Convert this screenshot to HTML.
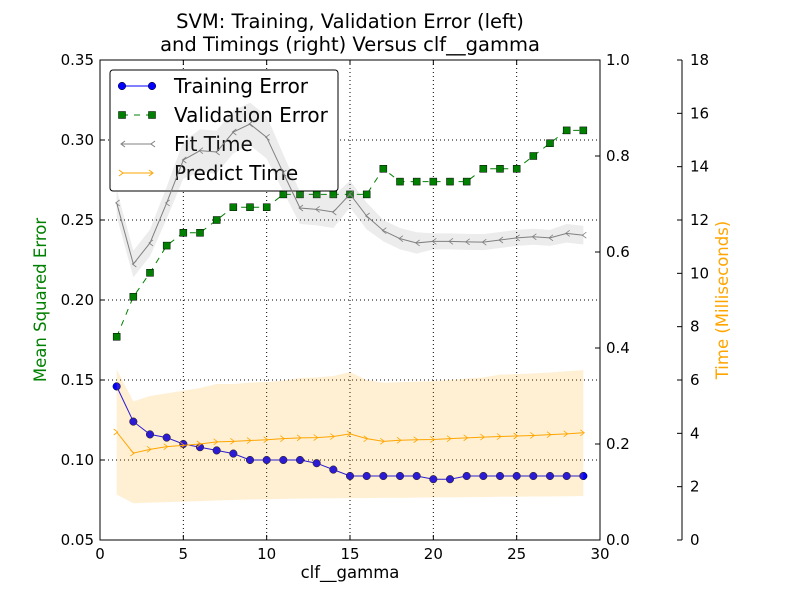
<!DOCTYPE html>
<html><head><meta charset="utf-8"><style>
body{margin:0;background:#fff}
svg{font-family:"DejaVu Sans","Liberation Sans",sans-serif}
</style></head><body>
<svg id="chart" width="800" height="600" xmlns="http://www.w3.org/2000/svg"></svg>
<script>
const gammas=[1,2,3,4,5,6,7,8,9,10,11,12,13,14,15,16,17,18,19,20,21,22,23,24,25,26,27,28,29];
const trainErr=[0.146,0.124,0.116,0.114,0.110,0.108,0.106,0.104,0.100,0.100,0.100,0.100,0.098,0.094,0.090,0.090,0.090,0.090,0.090,0.088,0.088,0.090,0.090,0.090,0.090,0.090,0.090,0.090,0.090];
const valErr=[0.177,0.202,0.217,0.234,0.242,0.242,0.250,0.258,0.258,0.258,0.266,0.266,0.266,0.266,0.266,0.266,0.282,0.274,0.274,0.274,0.274,0.274,0.282,0.282,0.282,0.290,0.298,0.306,0.306];
const fitTime=[12.64,10.35,11.14,12.64,14.25,14.6,14.55,15.3,15.6,15.1,13.76,12.45,12.4,12.3,12.97,12.15,11.6,11.3,11.14,11.2,11.2,11.18,11.17,11.25,11.33,11.37,11.33,11.5,11.43];
const fitStd=[0.5,0.5,0.5,0.6,0.7,0.8,0.8,0.8,0.8,0.8,0.7,0.6,0.6,0.6,0.5,0.5,0.4,0.4,0.4,0.3,0.3,0.3,0.3,0.3,0.3,0.3,0.3,0.35,0.35];
const predTime=[4.05,3.26,3.4,3.5,3.55,3.6,3.68,3.7,3.73,3.76,3.8,3.83,3.84,3.88,3.98,3.8,3.7,3.74,3.76,3.77,3.8,3.83,3.86,3.88,3.9,3.92,3.95,3.98,4.02];
const predHi=[6.4,5.2,5.4,5.5,5.6,5.7,5.85,5.85,5.9,5.93,5.97,6.07,6.1,6.15,6.3,6.0,5.9,5.92,5.94,5.96,6.0,6.05,6.1,6.2,6.22,6.25,6.28,6.33,6.37];
const predLo=[1.7,1.38,1.4,1.42,1.44,1.46,1.48,1.5,1.52,1.53,1.54,1.55,1.56,1.56,1.57,1.57,1.58,1.58,1.59,1.6,1.6,1.61,1.61,1.62,1.62,1.63,1.63,1.64,1.65];
const xTicks=[0,5,10,15,20,25,30];
const yTicks=[0.05,0.10,0.15,0.20,0.25,0.30,0.35];
const r1Ticks=[0,0.2,0.4,0.6,0.8,1.0];
const r2Ticks=[0,2,4,6,8,10,12,14,16,18];

const L=100,R=600,T=60,B=540;
const X=v=>L+(v/30)*(R-L);
const Y=v=>B-(v-0.05)/0.30*(B-T);
const YR=v=>B-v*(B-T);
const YT=v=>B-v/18*(B-T);
const svg=document.getElementById('chart');
const NS='http://www.w3.org/2000/svg';
function mk(tag,attrs,parent){const e=document.createElementNS(NS,tag);for(const k in attrs)e.setAttribute(k,attrs[k]);(parent||svg).appendChild(e);return e;}
function txt(s,attrs){const e=mk('text',attrs);e.textContent=s;return e;}
const pts=(xs,ys,f)=>xs.map((g,i)=>X(g)+','+f(ys[i])).join(' ');

// grid
xTicks.slice(1,-1).forEach(t=>{const l=mk('line',{x1:X(t),x2:X(t),y1:T,y2:B,stroke:'#000','stroke-dasharray':'1,3','stroke-width':1});

});
yTicks.slice(1,-1).forEach(t=>{const l=mk('line',{x1:L,x2:R,y1:Y(t),y2:Y(t),stroke:'#000','stroke-dasharray':'1,3','stroke-width':1});

});

// validation
const vl=mk('polyline',{points:pts(gammas,valErr,Y),fill:'none',stroke:'#008000','stroke-width':1,'stroke-dasharray':'6,6'});


gammas.forEach((g,i)=>{const m=mk('rect',{x:X(g)-3.5,y:Y(valErr[i])-3.5,width:7,height:7,fill:'#008000',stroke:'#000','stroke-width':0.5});

});
// training
const tl=mk('polyline',{points:pts(gammas,trainErr,Y),fill:'none',stroke:'#0000ff','stroke-width':1});


gammas.forEach((g,i)=>{const m=mk('circle',{cx:X(g),cy:Y(trainErr[i]),r:3.8,fill:'#0000ff',stroke:'#000','stroke-width':0.5});

});

// legend (drawn beneath the timing axes)
const lg=mk('rect',{x:110,y:70,width:228,height:121,rx:3,fill:'#fff',stroke:'#000','stroke-width':1});


const ents=[['Training Error','#0000ff','circle'],['Validation Error','#008000','square'],['Fit Time','#808080','left'],['Predict Time','#ffa500','right']];
ents.forEach((en,i)=>{const y=86+i*29;
mk('line',{x1:122,x2:152,y1:y,y2:y,stroke:en[1],'stroke-width':1,'stroke-dasharray':en[2]=='square'?'6,6':'none'});
if(en[2]=='circle'){mk('circle',{cx:122,cy:y,r:3.8,fill:en[1],stroke:'#000','stroke-width':0.5});mk('circle',{cx:152,cy:y,r:3.8,fill:en[1],stroke:'#000','stroke-width':0.5});}
if(en[2]=='square'){mk('rect',{x:118.5,y:y-3.5,width:7,height:7,fill:en[1],stroke:'#000','stroke-width':0.5});mk('rect',{x:148.5,y:y-3.5,width:7,height:7,fill:en[1],stroke:'#000','stroke-width':0.5});}
if(en[2]=='left'){[122,152].forEach(x=>mk('path',{d:`M${x+3},${y-3}L${x-1},${y}L${x+3},${y+3}`,fill:'none',stroke:en[1]}));}
if(en[2]=='right'){[122,152].forEach(x=>mk('path',{d:`M${x-3},${y-3}L${x+1},${y}L${x-3},${y+3}`,fill:'none',stroke:en[1]}));}
const t=txt(en[0],{x:174,y:y+7,'font-size':20});

});

// predict band
const pb=mk('polygon',{points:gammas.map((g,i)=>X(g)+','+YT(predHi[i])).join(' ')+' '+gammas.slice().reverse().map((g,j)=>{const i=gammas.length-1-j;return X(g)+','+YT(predLo[i]);}).join(' '),fill:'#ffa500','fill-opacity':0.17});


// fit band
const fb=mk('polygon',{points:gammas.map((g,i)=>X(g)+','+YT(fitTime[i]+fitStd[i])).join(' ')+' '+gammas.slice().reverse().map((g,j)=>{const i=gammas.length-1-j;return X(g)+','+YT(fitTime[i]-fitStd[i]);}).join(' '),fill:'#808080','fill-opacity':0.15});



// fit line
const fl=mk('polyline',{points:pts(gammas,fitTime,YT),fill:'none',stroke:'#808080','stroke-width':1});


gammas.forEach((g,i)=>{const m=mk('path',{d:`M${X(g)+3},${YT(fitTime[i])-3}L${X(g)-1},${YT(fitTime[i])}L${X(g)+3},${YT(fitTime[i])+3}`,fill:'none',stroke:'#808080','stroke-width':0.8});

});
// predict line
const pl=mk('polyline',{points:pts(gammas,predTime,YT),fill:'none',stroke:'#ffa500','stroke-width':1});


gammas.forEach((g,i)=>{const m=mk('path',{d:`M${X(g)-3},${YT(predTime[i])-3}L${X(g)+1},${YT(predTime[i])}L${X(g)-3},${YT(predTime[i])+3}`,fill:'none',stroke:'#ffa500','stroke-width':0.8});

});

// frame
const fr=mk('rect',{x:L,y:T,width:R-L,height:B-T,fill:'none',stroke:'#000','stroke-width':1});



// ticks
xTicks.forEach(t=>{mk('line',{x1:X(t),x2:X(t),y1:B,y2:B-5,stroke:'#000'});mk('line',{x1:X(t),x2:X(t),y1:T,y2:T+5,stroke:'#000'});
const e=txt(t,{x:X(t),y:B+19,'text-anchor':'middle','font-size':15});

});
yTicks.forEach(t=>{mk('line',{x1:L,x2:L+5,y1:Y(t),y2:Y(t),stroke:'#000'});
const e=txt(t.toFixed(2),{x:L-6,y:Y(t)+5,'text-anchor':'end','font-size':15});

});
r1Ticks.forEach(t=>{mk('line',{x1:R-5,x2:R,y1:YR(t),y2:YR(t),stroke:'#000'});
const e=txt(t.toFixed(1),{x:R+6,y:YR(t)+5,'font-size':15});

});
mk('line',{x1:682,x2:682,y1:T,y2:B,stroke:'#000'});
r2Ticks.forEach(t=>{mk('line',{x1:677,x2:682,y1:YT(t),y2:YT(t),stroke:'#000'});
const e=txt(t,{x:690,y:YT(t)+5,'font-size':15});

});

// labels
let e=txt('clf__gamma',{x:350,y:578,'text-anchor':'middle','font-size':16.5});


e=txt('Mean Squared Error',{x:46,y:300,'text-anchor':'middle','font-size':16.5,fill:'#008000',transform:'rotate(-90 46 300)'});


e=txt('Time (Milliseconds)',{x:728,y:300,'text-anchor':'middle','font-size':16.5,fill:'#ffa500',transform:'rotate(-90 728 300)'});


e=txt('SVM: Training, Validation Error (left)',{x:350,y:28,'text-anchor':'middle','font-size':19.5});


e=txt('and Timings (right) Versus clf__gamma',{x:350,y:51,'text-anchor':'middle','font-size':19.5});


</script>
</body></html>
